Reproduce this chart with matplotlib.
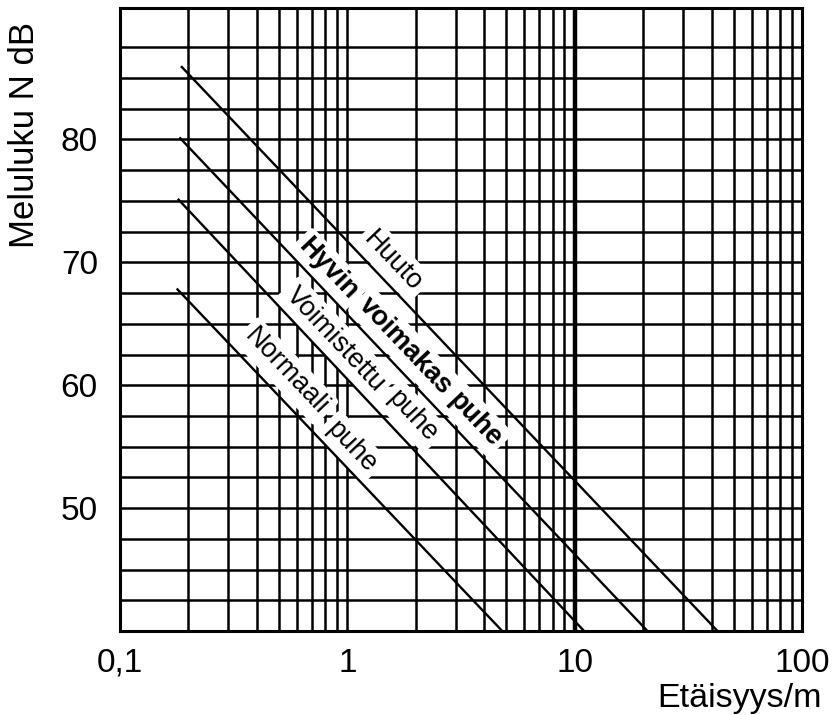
import numpy as np
import matplotlib
matplotlib.use("Agg")
import matplotlib.pyplot as plt
from matplotlib.ticker import FixedLocator, LogLocator, NullFormatter

plt.rcParams['font.family'] = ['Liberation Sans', 'DejaVu Sans']

# speech level lines: N dB against distance, start point -> end point
labels = ["Normaali puhe", "Voimistettu puhe", "Hyvin voimakas puhe", "Huuto"]
start_m = [0.179, 0.181, 0.184, 0.187]
start_db = [67.8, 75.1, 80.1, 85.9]
end_m = [4.8, 11.0, 20.9, 42.5]
end_db = [40.0, 40.0, 40.0, 40.0]

x_ticks = [0.1, 1, 10, 100]
x_tick_labels = ["0,1", "1", "10", "100"]
y_ticks = [50, 60, 70, 80]

# where each word of a label sits (m, dB)
word_spots = [
    [("Normaali", 0.538, 61.15), ("puhe", 1.04, 54.98)],
    [("Voimistettu", 0.884, 63.75), ("puhe", 1.93, 57.5)],
    [("Hyvin", 0.823, 69.44), ("voimakas", 1.797, 63.18), ("puhe", 3.65, 57.25)],
    [("Huuto", 1.59, 70.09)],
]
bold = [False, False, True, False]

fig = plt.figure(figsize=(8.34, 7.15), dpi=100)
ax = fig.add_axes([0.1439, 0.1175, 0.8177, 0.8713])
ax.set_xscale('log')
ax.set_xlim(0.1, 100)
ax.set_ylim(40, 90.7)

ax.xaxis.set_major_locator(FixedLocator(x_ticks))
ax.set_xticklabels(x_tick_labels)
ax.xaxis.set_minor_locator(LogLocator(base=10, subs=np.arange(2, 10)))
ax.xaxis.set_minor_formatter(NullFormatter())
ax.yaxis.set_major_locator(FixedLocator(y_ticks))
ax.yaxis.set_minor_locator(FixedLocator(np.arange(42.5, 90, 2.5)))

ax.set_axisbelow(True)
ax.grid(which='both', color='black', lw=1.8)
ax.axvline(10, color='black', lw=3.2, zorder=1)
ax.tick_params(which='both', length=0)
ax.tick_params(axis='y', pad=16, labelsize=24)
ax.tick_params(axis='x', pad=12, labelsize=24)
for sp in ax.spines.values():
    sp.set_linewidth(2.2)

for i in range(len(labels)):
    # lines stay on top of the white label boxes
    ax.plot([start_m[i], end_m[i]], [start_db[i], end_db[i]],
            color='black', lw=1.7, zorder=6)
    p0 = ax.transData.transform((start_m[i], start_db[i]))
    p1 = ax.transData.transform((end_m[i], end_db[i]))
    angle = np.degrees(np.arctan2(p1[1] - p0[1], p1[0] - p0[0]))
    for word, wx, wy in word_spots[i]:
        ax.text(wx, wy, word, rotation=angle, rotation_mode='anchor',
                ha='center', va='center', fontsize=19.5,
                fontweight='bold' if bold[i] else 'normal', zorder=5,
                bbox=dict(boxstyle='round,pad=0.18', fc='white', ec='none'))

fig.text(822 / 834, 8 / 715, "Etäisyys/m", ha='right', va='baseline', fontsize=24.5)
fig.text(25 / 834, 1 - 22 / 715, "Meluluku N dB", rotation=90,
         ha='center', va='top', fontsize=25)

fig.savefig("out.png", dpi=100)
